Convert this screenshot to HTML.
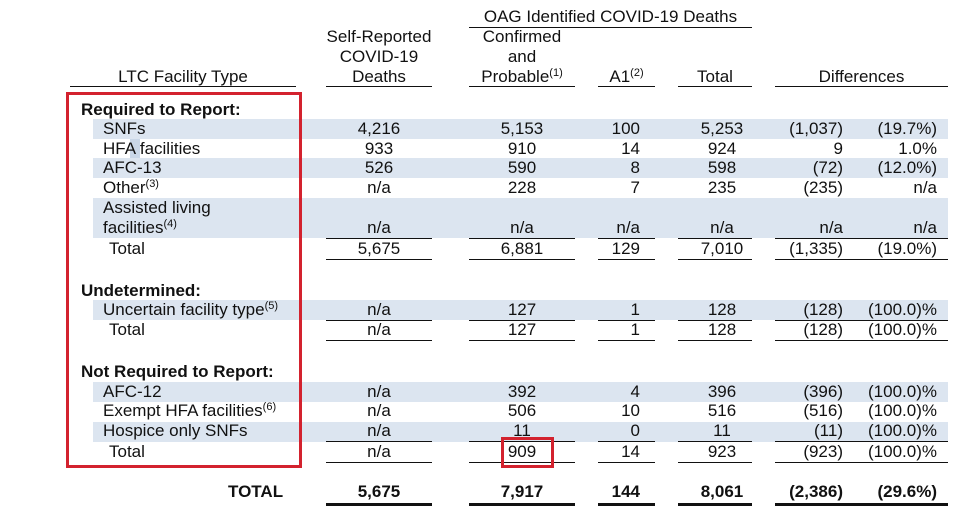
<!DOCTYPE html>
<html><head><meta charset="utf-8"><style>
body{margin:0;width:980px;height:509px;background:#fff;position:relative;overflow:hidden;font-family:"Liberation Sans",Arial,sans-serif;font-size:17px;color:#111}
div{position:absolute;white-space:nowrap;line-height:20px}
.b{background:#dce5f0;left:93px;width:855px;height:20px}
.l{height:0;border-top:1.5px solid #111}
.L{height:0;border-top:3px solid #111}
.c{text-align:center}
.r{text-align:right}
sup{font-size:11px;vertical-align:6px;line-height:0}
.bd{font-weight:bold}
</style></head><body>
<!-- bands -->
<div class="b" style="top:119px"></div>
<div class="b" style="top:158px"></div>
<div class="b" style="top:198px;height:40px"></div>
<div class="b" style="top:300px"></div>
<div class="b" style="top:382px"></div>
<div class="b" style="top:422px"></div>
<div style="left:130px;top:139px;width:10px;height:19px;background:#c9d7e8"></div>

<!-- headers -->
<div class="c" style="left:469px;width:283px;top:7px">OAG Identified COVID-19 Deaths</div>
<div class="l" style="left:469px;width:283px;top:27px"></div>
<div class="c" style="left:70px;width:226px;top:67px">LTC Facility Type</div>
<div class="c" style="left:326px;width:106px;top:27px">Self-Reported<br>COVID-19<br>Deaths</div>
<div class="c" style="left:469px;width:106px;top:27px">Confirmed<br>and<br>Probable<sup>(1)</sup></div>
<div class="c" style="left:598px;width:57px;top:67px">A1<sup>(2)</sup></div>
<div class="c" style="left:678px;width:74px;top:67px">Total</div>
<div class="c" style="left:775px;width:173px;top:67px">Differences</div>
<div class="l" style="left:70px;width:226px;top:86px"></div>
<div class="l" style="left:326px;width:106px;top:86px"></div>
<div class="l" style="left:469px;width:106px;top:86px"></div>
<div class="l" style="left:598px;width:57px;top:86px"></div>
<div class="l" style="left:678px;width:74px;top:86px"></div>
<div class="l" style="left:775px;width:173px;top:86px"></div>

<!-- labels -->
<div class="bd" style="left:81px;top:100px">Required to Report:</div>
<div style="left:103px;top:119px">SNFs</div>
<div style="left:103px;top:139px">HFA facilities</div>
<div style="left:103px;top:158px">AFC-13</div>
<div style="left:103px;top:178px">Other<sup>(3)</sup></div>
<div style="left:103px;top:198px">Assisted living<br>facilities<sup>(4)</sup></div>
<div style="left:109px;top:239px">Total</div>
<div class="bd" style="left:81px;top:281px">Undetermined:</div>
<div style="left:103px;top:300px">Uncertain facility type<sup>(5)</sup></div>
<div style="left:109px;top:320px">Total</div>
<div class="bd" style="left:81px;top:362px">Not Required to Report:</div>
<div style="left:103px;top:382px">AFC-12</div>
<div style="left:103px;top:401px">Exempt HFA facilities<sup>(6)</sup></div>
<div style="left:103px;top:421px">Hospice only SNFs</div>
<div style="left:109px;top:442px">Total</div>
<div class="bd" style="left:228px;top:482px">TOTAL</div>

<!-- data rows: cols: sr c379, conf c522, a1 r640, tot c722, d1 r843, d2 r937 -->
<div id="rows"></div>
<script>
var rows=[
[119,"4,216","5,153","100","5,253","(1,037)","(19.7%)"],
[139,"933","910","14","924","9","1.0%"],
[158,"526","590","8","598","(72)","(12.0%)"],
[178,"n/a","228","7","235","(235)","n/a"],
[218,"n/a","n/a","n/a","n/a","n/a","n/a"],
[239,"5,675","6,881","129","7,010","(1,335)","(19.0%)"],
[300,"n/a","127","1","128","(128)","(100.0)%"],
[320,"n/a","127","1","128","(128)","(100.0)%"],
[382,"n/a","392","4","396","(396)","(100.0)%"],
[401,"n/a","506","10","516","(516)","(100.0)%"],
[421,"n/a","11","0","11","(11)","(100.0)%"],
[442,"n/a","909","14","923","(923)","(100.0)%"],
[482,"5,675","7,917","144","8,061","(2,386)","(29.6%)"]];
var h="";
rows.forEach(function(r,i){var t=r[0],bd=i==12?"font-weight:bold;":"";
h+='<div class="c" style="'+bd+'left:326px;width:106px;top:'+t+'px">'+r[1]+'</div>';
h+='<div class="c" style="'+bd+'left:469px;width:106px;top:'+t+'px">'+r[2]+'</div>';
h+='<div class="r" style="'+bd+'left:598px;width:42px;top:'+t+'px">'+r[3]+'</div>';
h+='<div class="c" style="'+bd+'left:684px;width:76px;top:'+t+'px">'+r[4]+'</div>';
h+='<div class="r" style="'+bd+'left:775px;width:68px;top:'+t+'px">'+r[5]+'</div>';
h+='<div class="r" style="'+bd+'left:850px;width:87px;top:'+t+'px">'+r[6]+'</div>';});
[238,259,320,340,441,462].forEach(function(y){
[[326,106],[469,106],[598,57],[678,74],[775,173]].forEach(function(c){
h+='<div class="l" style="left:'+c[0]+'px;width:'+c[1]+'px;top:'+y+'px"></div>';});});
[[326,106],[469,106],[598,57],[678,74],[775,173]].forEach(function(c){
h+='<div class="L" style="left:'+c[0]+'px;width:'+c[1]+'px;top:503px"></div>';});
document.getElementById("rows").outerHTML=h;
</script>

<!-- red boxes -->
<div style="left:66px;top:92px;width:230px;height:370px;border:3px solid #d3222e"></div>
<div style="left:501px;top:437px;width:47px;height:25px;border:3px solid #d3222e"></div>
</body></html>
